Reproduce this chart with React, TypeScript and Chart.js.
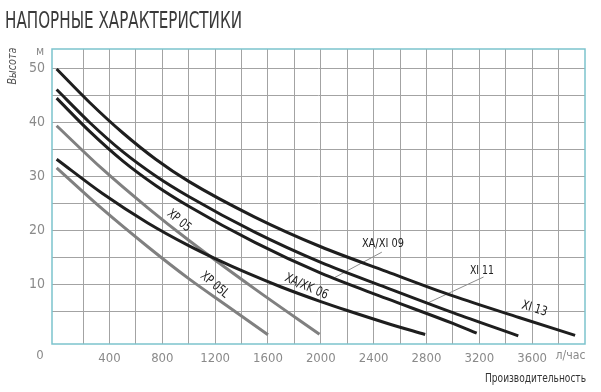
import React, { useEffect, useRef } from "react";
import { Chart, registerables } from "chart.js";

Chart.register(...registerables);

const FAMILY =
  '"Liberation Sans Narrow", "DejaVu Sans Condensed", "Liberation Sans", Arial, sans-serif';

// ---- texts ----
const TITLE = "НАПОРНЫЕ ХАРАКТЕРИСТИКИ";
const Y_TITLE = "Высота";
const X_TITLE = "Производительность";
const Y_UNIT = "м";
const X_UNIT = "л/час";
const ORIGIN_LABEL = "0";

// ---- axes ----
const xGridValues = [200, 400, 600, 800, 1000, 1200, 1400, 1600, 1800, 2000, 2200, 2400, 2600, 2800, 3000, 3200, 3400, 3600, 3800];
const xTickLabels = [400, 800, 1200, 1600, 2000, 2400, 2800, 3200, 3600];
const yGridValues = [5, 10, 15, 20, 25, 30, 35, 40, 45, 50];
const yTickLabels = [10, 20, 30, 40, 50];
const X_UNIT_AT = 3800;

// ---- series (x: л/час, y: м) ----
const seriesNames = ["XI 13", "XI 11", "XA/XI 09", "XA/XK 06", "XP 05", "XP 05L"];
const xi13: number[][] = [[0, 49.9], [250, 43.7], [500, 38.1], [750, 33.2], [1000, 29.1], [1500, 22.5], [2000, 17.0], [2500, 12.4], [3000, 7.9], [3500, 3.9], [3925, 0.6]];
const xi11: number[][] = [[0, 46.1], [250, 40.0], [500, 34.6], [750, 30.1], [1000, 26.3], [1500, 19.7], [2000, 14.1], [2500, 9.4], [3000, 4.8], [3495, 0.5]];
const xaxi09: number[][] = [[0, 44.5], [250, 38.35], [500, 32.9], [750, 28.35], [1000, 24.5], [1500, 17.8], [2000, 12.1], [2500, 7.4], [3000, 2.8], [3180, 1.0]];
const xaxk06: number[][] = [[0, 33.2], [350, 26.8], [690, 21.4], [1000, 17.2], [1200, 14.8], [1450, 12.05], [1700, 9.55], [2000, 6.85], [2200, 5.2], [2500, 2.85], [2790, 0.75]];
const xp05: number[][] = [[0, 39.4], [350, 31.3], [690, 24.2], [1000, 18.2], [1500, 9.2], [1990, 0.8]];
const xp05l: number[][] = [[0, 31.6], [350, 23.9], [690, 17.0], [1000, 11.1], [1300, 5.9], [1600, 0.7]];
const seriesData = [xi13, xi11, xaxi09, xaxk06, xp05, xp05l];
const seriesGray = [false, false, false, false, true, true];

// curve labels anchored in data coordinates
const curveLabels = [
  { text: "XP 05", x: 926, y: 21.8, angle: 40, w: 27 },
  { text: "XP 05L", x: 1195, y: 9.9, angle: 40, w: 33 },
  { text: "XA/XK 06", x: 1890, y: 9.6, angle: 24, w: 46 },
  { text: "XA/XI 09", x: 2470, y: 17.5, angle: 0, w: 42 },
  { text: "XI 11", x: 3220, y: 12.5, angle: 0, w: 24 },
  { text: "XI 13", x: 3617, y: 5.5, angle: 17, w: 26 },
];
const leaders = [
  { from: [2462, 16.0], to: [2105, 11.3] },
  { from: [3232, 11.4], to: [2810, 6.6] },
];

const BLACK = "#1e1e1e";
const GRAY = "#808080";
const GRID = "#a3a3a3";
const BORDER = "#7cc3cd";
const TICK = "#8a8a8a";

function drawText(
  ctx: CanvasRenderingContext2D,
  text: string,
  x: number,
  y: number,
  font: string,
  color: string,
  align: CanvasTextAlign = "center",
  angle = 0,
  maxWidth?: number
) {
  ctx.save();
  ctx.translate(x, y);
  ctx.rotate((angle * Math.PI) / 180);
  ctx.font = font;
  ctx.fillStyle = color;
  ctx.textAlign = align;
  ctx.textBaseline = "middle";
  if (maxWidth) ctx.fillText(text, 0, 0, maxWidth);
  else ctx.fillText(text, 0, 0);
  ctx.restore();
}

const decoPlugin = {
  id: "deco",
  beforeDatasetsDraw(chart: any) {
    const { ctx, chartArea: a, scales } = chart;
    ctx.save();
    ctx.strokeStyle = BORDER;
    ctx.lineWidth = 1.5;
    ctx.strokeRect(a.left, a.top, a.right - a.left, a.bottom - a.top);
    ctx.strokeStyle = "#8c8c8c";
    ctx.lineWidth = 1;
    leaders.forEach((l) => {
      ctx.beginPath();
      ctx.moveTo(scales.x.getPixelForValue(l.from[0]), scales.y.getPixelForValue(l.from[1]));
      ctx.lineTo(scales.x.getPixelForValue(l.to[0]), scales.y.getPixelForValue(l.to[1]));
      ctx.stroke();
    });
    ctx.restore();
  },
  afterDraw(chart: any) {
    const { ctx, chartArea: a, scales } = chart;
    drawText(ctx, TITLE, 5, 22, `23px ${FAMILY}`, "#3a3a3a", "left", 0, 237);
    drawText(ctx, Y_TITLE, 13, 66, `italic 13px ${FAMILY}`, "#555555", "center", -90, 37);
    drawText(ctx, X_TITLE, a.right + 1, 379, `13px ${FAMILY}`, "#333333", "right", 0, 101);
    drawText(ctx, Y_UNIT, a.left - 12, a.top + 2.5, `12px ${FAMILY}`, TICK, "center");
    drawText(ctx, ORIGIN_LABEL, a.left - 12, a.bottom + 12, `13px ${FAMILY}`, TICK, "center");
    drawText(ctx, X_UNIT, scales.x.getPixelForValue(X_UNIT_AT) + 12, a.bottom + 12, `13px ${FAMILY}`, TICK, "center", 0, 30);
    curveLabels.forEach((l) => {
      drawText(
        ctx,
        l.text,
        scales.x.getPixelForValue(l.x),
        scales.y.getPixelForValue(l.y),
        `13px ${FAMILY}`,
        "#222222",
        "center",
        l.angle,
        l.w
      );
    });
  },
};

export default function App() {
  const ref = useRef<HTMLCanvasElement | null>(null);
  useEffect(() => {
    document.body.style.margin = "0";
    const canvas = ref.current;
    if (!canvas) return;
    const chart = new Chart(canvas, {
      type: "line",
      data: {
        datasets: seriesNames.map((name, i) => ({
          label: name,
          data: seriesData[i].map(([x, y]) => ({ x, y })),
          borderColor: seriesGray[i] ? GRAY : BLACK,
          borderWidth: 3,
          pointRadius: 0,
          fill: false,
          cubicInterpolationMode: "monotone" as const,
          tension: 0.4,
        })),
      },
      options: {
        responsive: false,
        animation: false,
        devicePixelRatio: 1,
        layout: { padding: { left: 0, right: 16, top: 49, bottom: 0 } },
        plugins: { legend: { display: false }, tooltip: { enabled: false }, title: { display: false } },
        scales: {
          x: {
            type: "linear",
            min: -35,
            max: 4000,
            afterBuildTicks: (s: any) => {
              s.ticks = xGridValues.map((v) => ({ value: v }));
            },
            afterFit: (s: any) => {
              s.height = 48;
            },
            grid: { color: GRID, lineWidth: 1, drawTicks: false },
            border: { display: false },
            ticks: {
              autoSkip: false,
              maxRotation: 0,
              padding: 7,
              color: TICK,
              font: { family: FAMILY, size: 13 },
              callback: (v: any) => (xTickLabels.includes(Number(v)) ? String(v) : ""),
            },
          },
          y: {
            type: "linear",
            min: -1,
            max: 53.6,
            afterBuildTicks: (s: any) => {
              s.ticks = yGridValues.map((v) => ({ value: v }));
            },
            afterFit: (s: any) => {
              s.width = 52;
            },
            grid: { color: GRID, lineWidth: 1, drawTicks: false },
            border: { display: false },
            ticks: {
              autoSkip: false,
              padding: 7,
              color: TICK,
              font: { family: FAMILY, size: 14 },
              callback: (v: any) => (yTickLabels.includes(Number(v)) ? String(v) : ""),
            },
          },
        },
      },
      plugins: [decoPlugin],
    });
    return () => chart.destroy();
  }, []);
  return (
    <div style={{ position: "absolute", left: 0, top: 0, width: 601, height: 392, background: "#ffffff" }}>
      <canvas ref={ref} width={601} height={392} style={{ display: "block" }} />
    </div>
  );
}
